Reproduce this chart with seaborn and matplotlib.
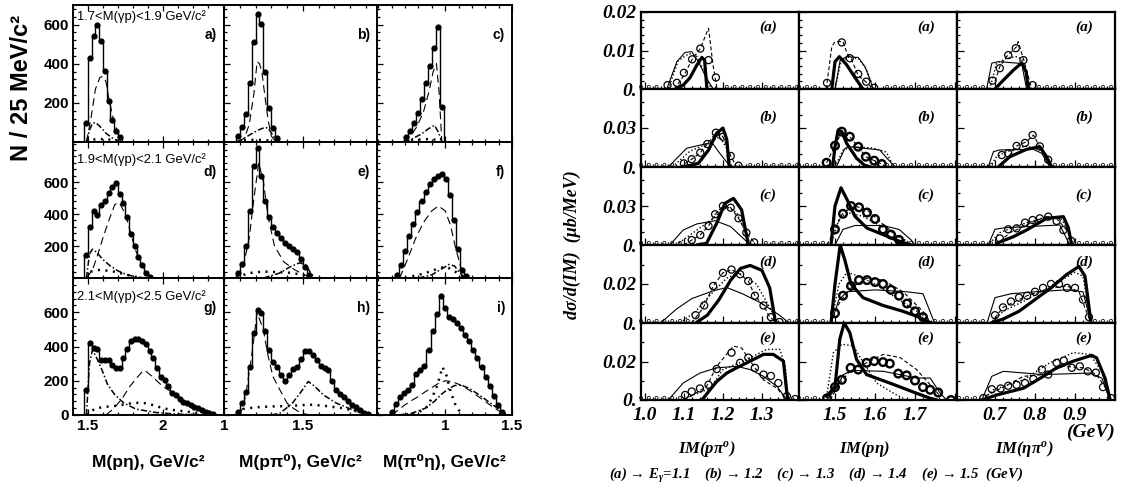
import numpy as np
import pandas as pd
import matplotlib
matplotlib.use("Agg")
import matplotlib.pyplot as plt
from matplotlib.ticker import MultipleLocator
from matplotlib.transforms import ScaledTranslation
import seaborn as sns

sns.set_theme(style="ticks", rc={
    "axes.edgecolor": "black", "xtick.color": "black", "ytick.color": "black",
    "text.color": "black", "axes.labelcolor": "black",
})
SANS = ["Liberation Sans", "DejaVu Sans"]
SERIF = ["Liberation Serif", "DejaVu Serif"]
plt.rcParams["font.family"] = SANS
plt.rcParams["mathtext.fontset"] = "custom"
plt.rcParams["mathtext.rm"] = "Liberation Serif:bold:italic"
plt.rcParams["mathtext.it"] = "Liberation Serif:bold:italic"
plt.rcParams["mathtext.bf"] = "Liberation Serif:bold:italic"

# ======================= left block: event distributions =======================
W_SLICES = ["1.7<M(γp)<1.9 GeV/c²", "1.9<M(γp)<2.1 GeV/c²", "2.1<M(γp)<2.5 GeV/c²"]
LEFT_TAGS = [["a)", "b)", "c)"], ["d)", "e)", "f)"], ["g)", "h)", "i)"]]
MASS_TITLES = ["M(pη), GeV/c²", "M(pπ⁰), GeV/c²", "M(π⁰η), GeV/c²"]
Y_TITLE_LEFT = "N / 25 MeV/c²"

# first bin centre of each panel and bin width of each column
FIRST_BIN = [[1.4875, 1.0875, 0.705], [1.4875, 1.0875, 0.640], [1.4875, 1.0875, 0.601]]
BIN_WIDTH = [0.025, 0.025, 0.0305]

counts_a = [96, 429, 544, 597, 514, 364, 207, 113, 56, 27]
counts_b = [31, 79, 144, 301, 511, 656, 605, 356, 176, 70, 22]
counts_c = [25, 55, 95, 150, 220, 300, 390, 480, 590, 180]
counts_d = [144, 317, 421, 394, 456, 481, 529, 571, 592, 525, 467, 383, 275, 200, 133, 81, 33, 8]
counts_e = [30, 90, 200, 420, 700, 810, 640, 480, 380, 320, 280, 250, 220, 200, 180, 160, 120, 70, 20]
counts_f = [20, 80, 170, 260, 340, 410, 480, 540, 590, 620, 640, 650, 620, 520, 360, 180, 50, 10]
counts_g = [147, 418, 392, 386, 323, 323, 323, 294, 275, 275, 333, 386, 431, 445, 441, 431, 412, 372,
            333, 275, 222, 206, 167, 127, 118, 95, 78, 69, 59, 45, 39, 28, 20, 12, 6]
counts_h = [20, 69, 137, 280, 480, 614, 598, 490, 382, 308, 280, 235, 200, 235, 269, 280, 327, 372,
            372, 350, 323, 288, 275, 265, 200, 147, 122, 108, 84, 59, 49, 29, 14, 5]
counts_i = [20, 65, 104, 127, 147, 176, 241, 265, 288, 378, 490, 588, 692, 622, 575, 563, 539, 510,
            470, 430, 380, 330, 280, 220, 170, 110, 60, 20]

# fit components: dashed, dash-dotted, dotted
dash_a = ([1.49, 1.52, 1.55, 1.58, 1.60, 1.62, 1.645, 1.67, 1.70, 1.72], [0, 120, 270, 330, 335, 310, 200, 120, 45, 0])
ddot_a = ([1.49, 1.51, 1.53, 1.55, 1.58, 1.62, 1.66, 1.70, 1.72], [0, 60, 95, 100, 80, 45, 22, 5, 0])
dots_a = ([1.49, 1.52, 1.60, 1.68, 1.72], [0, 12, 15, 10, 0])
dash_b = ([1.09, 1.13, 1.16, 1.19, 1.21, 1.225, 1.24, 1.26, 1.28, 1.30, 1.33], [0, 20, 90, 250, 410, 400, 360, 230, 110, 30, 0])
ddot_b = ([1.08, 1.12, 1.17, 1.22, 1.26, 1.28, 1.31, 1.34], [0, 15, 40, 62, 75, 70, 35, 0])
dots_b = ([1.08, 1.12, 1.20, 1.28, 1.34], [0, 8, 12, 8, 0])
dash_c = ([0.69, 0.74, 0.79, 0.84, 0.88, 0.91, 0.935, 0.955, 0.975], [0, 30, 80, 160, 260, 360, 400, 250, 0])
ddot_c = ([0.69, 0.75, 0.82, 0.88, 0.92, 0.95, 0.975], [0, 15, 40, 70, 85, 50, 0])
dots_c = ([0.69, 0.76, 0.85, 0.93, 0.975], [0, 10, 15, 12, 0])
dash_d = ([1.49, 1.53, 1.56, 1.60, 1.64, 1.68, 1.71, 1.75, 1.78, 1.82, 1.86, 1.90, 1.93],
          [0, 50, 130, 250, 360, 460, 470, 400, 300, 170, 80, 20, 0])
ddot_d = ([1.49, 1.51, 1.53, 1.56, 1.60, 1.65, 1.70, 1.76, 1.82, 1.88], [0, 150, 180, 160, 115, 75, 45, 20, 8, 0])
dots_d = ([1.49, 1.52, 1.57, 1.65, 1.72, 1.80, 1.86], [0, 40, 50, 45, 30, 10, 0])
dash_e = ([1.08, 1.12, 1.16, 1.19, 1.22, 1.25, 1.28, 1.32, 1.38, 1.45, 1.52, 1.56],
          [0, 60, 250, 500, 720, 600, 380, 200, 100, 50, 15, 0])
ddot_e = ([1.25, 1.35, 1.42, 1.48, 1.52, 1.55, 1.58], [0, 30, 70, 95, 80, 30, 0])
dots_e = ([1.08, 1.15, 1.25, 1.40, 1.50, 1.56], [0, 30, 40, 35, 20, 0])
dash_f = ([0.66, 0.72, 0.78, 0.84, 0.90, 0.95, 1.0, 1.04, 1.08, 1.12, 1.15], [0, 120, 250, 350, 420, 450, 420, 330, 180, 60, 0])
ddot_f = ([0.80, 0.90, 0.98, 1.03, 1.07, 1.11, 1.15], [0, 20, 60, 85, 75, 30, 0])
dots_f = ([0.70, 0.85, 0.95, 1.0, 1.05, 1.10, 1.15], [0, 30, 60, 70, 55, 25, 0])
dash_g = ([1.62, 1.67, 1.73, 1.78, 1.83, 1.86, 1.88, 1.93, 2.0, 2.09, 2.16, 2.21, 2.30, 2.38],
          [0, 35, 98, 167, 220, 250, 261, 225, 167, 118, 69, 39, 15, 0])
ddot_g = ([1.49, 1.51, 1.53, 1.56, 1.60, 1.63, 1.68, 1.74, 1.82, 1.95, 2.10, 2.35],
          [0, 300, 380, 330, 250, 180, 118, 70, 35, 15, 5, 0])
dots_g = ([1.49, 1.52, 1.55, 1.62, 1.68, 1.75, 1.81, 1.88, 1.95, 2.0, 2.08, 2.16, 2.25, 2.35],
          [0, 20, 39, 48, 53, 62, 72, 69, 55, 39, 28, 20, 10, 0])
dash_h = ([1.09, 1.12, 1.143, 1.175, 1.21, 1.249, 1.28, 1.31, 1.354, 1.40, 1.44, 1.49, 1.55],
          [0, 40, 147, 343, 598, 500, 343, 225, 147, 69, 39, 10, 0])
ddot_h = ([1.30, 1.354, 1.43, 1.49, 1.534, 1.576, 1.629, 1.713, 1.818, 1.90, 1.95],
          [0, 10, 65, 137, 196, 167, 118, 69, 29, 6, 0])
dots_h = ([1.09, 1.12, 1.20, 1.30, 1.40, 1.50, 1.56, 1.65, 1.75, 1.85, 1.95],
          [0, 35, 45, 50, 52, 58, 60, 52, 40, 20, 0])
dash_i = ([0.60, 0.65, 0.70, 0.75, 0.80, 0.85, 0.90, 0.95, 1.0, 1.05, 1.10, 1.15, 1.20, 1.28, 1.36, 1.45],
          [0, 30, 60, 85, 108, 135, 160, 185, 200, 195, 180, 160, 135, 90, 45, 0])
ddot_i = ([0.65, 0.75, 0.85, 0.92, 0.97, 1.02, 1.07, 1.12, 1.18, 1.25, 1.32, 1.40, 1.46],
          [0, 10, 39, 80, 120, 150, 172, 175, 155, 120, 80, 35, 0])
dots_i = ([0.70, 0.80, 0.86, 0.90, 0.94, 0.98, 1.01, 1.04, 1.07, 1.10, 1.14],
          [0, 15, 45, 98, 170, 280, 230, 140, 70, 30, 0])

LEFT_COUNTS = [[counts_a, counts_b, counts_c], [counts_d, counts_e, counts_f], [counts_g, counts_h, counts_i]]
LEFT_DASH = [[dash_a, dash_b, dash_c], [dash_d, dash_e, dash_f], [dash_g, dash_h, dash_i]]
LEFT_DDOT = [[ddot_a, ddot_b, ddot_c], [ddot_d, ddot_e, ddot_f], [ddot_g, ddot_h, ddot_i]]
LEFT_DOTS = [[dots_a, dots_b, dots_c], [dots_d, dots_e, dots_f], [dots_g, dots_h, dots_i]]

LEFT_XLIM = [(1.4, 2.41), (1.0, 1.97), (0.49, 1.5)]
LEFT_XTICKS = [[1.5, 2.0], [1.0, 1.5], [1.0, 1.5]]
LEFT_XTICKLABELS = [["1.5", "2"], ["1", "1.5"], ["1", "1.5"]]
LEFT_YMAX = [700, 850, 800]
LEFT_YTICKS = [[200, 400, 600], [200, 400, 600], [0, 200, 400, 600]]

# ======================= right block: cross sections =======================
ROW_TAGS = ["(a)", "(b)", "(c)", "(d)", "(e)"]
PAIR_TITLES = [r"IM(p$\pi^o$)", r"IM(p$\eta$)", r"IM($\eta\pi^o$)"]
Y_TITLE_RIGHT = "dσ/d(IM)  (μb/MeV)"
ENERGY_LINE = r"(a) → $E_{\gamma}$=1.1    (b) → 1.2    (c) → 1.3    (d) → 1.4    (e) → 1.5  (GeV)"

# column 1: IM(p pi0), rows (a)..(e)
ppi_thick = [
    ([1.083, 1.10, 1.116, 1.133, 1.146, 1.153, 1.159], [0, 0.0012, 0.003, 0.0062, 0.0082, 0.0075, 0]),
    ([1.098, 1.137, 1.163, 1.184, 1.200, 1.210, 1.216], [0, 0.0028, 0.013, 0.026, 0.030, 0.021, 0]),
    ([1.133, 1.158, 1.184, 1.205, 1.227, 1.248, 1.261, 1.266], [0, 0.0013, 0.0167, 0.032, 0.0359, 0.027, 0.0064, 0]),
    ([1.13, 1.16, 1.19, 1.22, 1.245, 1.27, 1.30, 1.32, 1.335], [0, 0.004, 0.012, 0.022, 0.028, 0.0295, 0.027, 0.018, 0]),
    ([1.146, 1.184, 1.21, 1.235, 1.27, 1.304, 1.329, 1.355, 1.364, 1.367],
     [0, 0.0096, 0.014, 0.0167, 0.0202, 0.0237, 0.0237, 0.0202, 0.0035, 0]),
]
ppi_thin = [
    ([1.056, 1.082, 1.103, 1.12, 1.137, 1.158, 1.175], [0, 0.0071, 0.0095, 0.0097, 0.0071, 0.0028, 0]),
    ([1.06, 1.107, 1.158, 1.175, 1.192, 1.22], [0, 0.0144, 0.018, 0.0175, 0.0105, 0]),
    ([1.064, 1.098, 1.133, 1.18, 1.22, 1.252, 1.27], [0, 0.0115, 0.0162, 0.0187, 0.0141, 0.0051, 0]),
    ([1.04, 1.08, 1.12, 1.175, 1.21, 1.25, 1.30, 1.345, 1.37], [0, 0.007, 0.0125, 0.0165, 0.0182, 0.015, 0.010, 0.004, 0]),
    ([1.06, 1.098, 1.141, 1.184, 1.235, 1.27, 1.304, 1.339, 1.364], [0, 0.0088, 0.014, 0.0167, 0.0175, 0.0158, 0.0123, 0.007, 0]),
]
ppi_dot = [
    ([1.06, 1.085, 1.113, 1.133, 1.158, 1.17], [0, 0.0073, 0.0092, 0.0085, 0.003, 0]),
    ([1.07, 1.116, 1.15, 1.192, 1.209, 1.221], [0, 0.0123, 0.0165, 0.0231, 0.0146, 0]),
    ([1.08, 1.125, 1.168, 1.21, 1.235, 1.261, 1.27], [0, 0.0097, 0.019, 0.0295, 0.025, 0.008, 0]),
    ([1.09, 1.13, 1.175, 1.21, 1.24, 1.286, 1.32, 1.34], [0, 0.006, 0.016, 0.023, 0.0257, 0.0199, 0.008, 0]),
    ([1.09, 1.167, 1.20, 1.253, 1.312, 1.346, 1.36, 1.367], [0, 0.006, 0.0158, 0.0202, 0.0263, 0.0263, 0.0175, 0]),
]
ppi_dash = [
    ([1.075, 1.10, 1.121, 1.142, 1.163, 1.175, 1.185], [0, 0.0035, 0.0077, 0.0105, 0.0158, 0.006, 0]),
    ([1.09, 1.12, 1.142, 1.16, 1.182, 1.20, 1.22, 1.235], [0, 0.006, 0.011, 0.0177, 0.0264, 0.0233, 0.0085, 0]),
    ([1.10, 1.12, 1.142, 1.163, 1.18, 1.20, 1.22, 1.24, 1.26, 1.28],
     [0, 0.0038, 0.0077, 0.0146, 0.0236, 0.030, 0.0287, 0.0205, 0.0095, 0.002]),
    ([1.12, 1.15, 1.175, 1.20, 1.222, 1.244, 1.265, 1.282, 1.304, 1.32, 1.34],
     [0, 0.008, 0.019, 0.0257, 0.0274, 0.025, 0.0215, 0.014, 0.009, 0.003, 0]),
    ([1.10, 1.116, 1.158, 1.184, 1.227, 1.248, 1.27, 1.304, 1.339, 1.364],
     [0, 0.0018, 0.007, 0.0175, 0.028, 0.027, 0.0202, 0.0105, 0.006, 0]),
]
ppi_circ = [
    ([1.058, 1.082, 1.10, 1.121, 1.142, 1.163, 1.182], [0.001, 0.0016, 0.0042, 0.0077, 0.0105, 0.0075, 0.003]),
    ([1.10, 1.12, 1.142, 1.16, 1.182, 1.20, 1.22, 1.24], [0.0028, 0.006, 0.011, 0.0177, 0.0264, 0.0233, 0.0085, 0.001]),
    ([1.12, 1.142, 1.163, 1.18, 1.20, 1.22, 1.24, 1.26, 1.28],
     [0.0038, 0.0077, 0.0146, 0.0236, 0.030, 0.0287, 0.0205, 0.0095, 0.002]),
    ([1.13, 1.152, 1.175, 1.20, 1.222, 1.244, 1.265, 1.282, 1.304, 1.323, 1.345],
     [0.004, 0.009, 0.019, 0.0257, 0.0274, 0.025, 0.0215, 0.014, 0.009, 0.003, 0.0005]),
    ([1.103, 1.12, 1.141, 1.163, 1.184, 1.222, 1.244, 1.265, 1.282, 1.304, 1.323, 1.342, 1.364, 1.385],
     [0.0026, 0.0044, 0.006, 0.0079, 0.0161, 0.0246, 0.0193, 0.022, 0.0167, 0.0132, 0.0125, 0.0088, 0.002, 0.0005]),
]

# column 2: IM(p eta)
peta_thick = [
    ([1.492, 1.50, 1.511, 1.529, 1.546, 1.563, 1.57], [0, 0.0071, 0.0084, 0.0063, 0.0036, 0.001, 0]),
    ([1.494, 1.50, 1.508, 1.517, 1.529, 1.554, 1.574, 1.59], [0, 0.0156, 0.0285, 0.0272, 0.0182, 0.0067, 0.0013, 0]),
    ([1.49, 1.50, 1.515, 1.53, 1.55, 1.58, 1.62, 1.66, 1.69], [0, 0.030, 0.044, 0.035, 0.022, 0.013, 0.008, 0.003, 0]),
    ([1.49, 1.50, 1.513, 1.525, 1.54, 1.57, 1.62, 1.67, 1.71, 1.74], [0, 0.020, 0.040, 0.032, 0.020, 0.013, 0.009, 0.006, 0.003, 0]),
    ([1.479, 1.50, 1.512, 1.523, 1.537, 1.554, 1.579, 1.637, 1.704, 1.738, 1.755],
     [0.0018, 0.007, 0.0316, 0.040, 0.035, 0.021, 0.0132, 0.0088, 0.0035, 0.0009, 0]),
]
peta_thin = [
    ([1.50, 1.513, 1.529, 1.558, 1.575, 1.588, 1.595], [0, 0.0075, 0.0084, 0.0082, 0.0058, 0.0023, 0]),
    ([1.503, 1.525, 1.537, 1.612, 1.63, 1.65], [0, 0.0144, 0.0156, 0.0131, 0.0067, 0]),
    ([1.50, 1.52, 1.55, 1.62, 1.66, 1.69, 1.70], [0, 0.012, 0.015, 0.015, 0.012, 0.004, 0]),
    ([1.49, 1.51, 1.53, 1.60, 1.68, 1.72, 1.745, 1.75], [0, 0.012, 0.016, 0.017, 0.016, 0.015, 0.002, 0]),
    ([1.479, 1.50, 1.521, 1.542, 1.621, 1.704, 1.738, 1.763, 1.779],
     [0, 0.0053, 0.0132, 0.0154, 0.0149, 0.0114, 0.0114, 0.0035, 0]),
]
peta_dot = [
    ([1.50, 1.515, 1.535, 1.56, 1.578, 1.59, 1.596], [0, 0.0072, 0.0083, 0.0078, 0.0052, 0.002, 0]),
    ([1.50, 1.52, 1.545, 1.595, 1.628, 1.642, 1.648], [0, 0.013, 0.0156, 0.0146, 0.0115, 0.003, 0]),
    ([1.49, 1.51, 1.53, 1.57, 1.63, 1.68, 1.69], [0, 0.020, 0.025, 0.022, 0.012, 0.003, 0]),
    ([1.49, 1.51, 1.53, 1.56, 1.60, 1.66, 1.72, 1.74], [0, 0.020, 0.026, 0.024, 0.020, 0.012, 0.004, 0]),
    ([1.479, 1.496, 1.517, 1.546, 1.571, 1.604, 1.654, 1.679], [0.002, 0.0246, 0.029, 0.0281, 0.0193, 0.0088, 0.0026, 0]),
]
peta_dash = [
    ([1.478, 1.492, 1.50, 1.52, 1.53, 1.54, 1.558, 1.58, 1.595], [0, 0.011, 0.0123, 0.0123, 0.0093, 0.008, 0.0035, 0.0016, 0]),
    ([1.479, 1.50, 1.517, 1.537, 1.558, 1.577, 1.598, 1.617], [0.0033, 0.0164, 0.0272, 0.0233, 0.0156, 0.0079, 0.0049, 0.0023]),
    ([1.48, 1.50, 1.52, 1.55, 1.58, 1.62, 1.66, 1.69], [0, 0.012, 0.025, 0.030, 0.027, 0.016, 0.006, 0]),
    ([1.49, 1.51, 1.54, 1.58, 1.62, 1.67, 1.72, 1.74], [0, 0.010, 0.018, 0.023, 0.022, 0.016, 0.006, 0]),
    ([1.488, 1.512, 1.537, 1.579, 1.621, 1.663, 1.704, 1.738, 1.763],
     [0, 0.0088, 0.0149, 0.0193, 0.0237, 0.022, 0.0158, 0.0079, 0.002]),
]
peta_circ = [
    ([1.48, 1.517, 1.537, 1.558, 1.578, 1.598], [0.0016, 0.0121, 0.008, 0.0039, 0.0019, 0.0003]),
    ([1.479, 1.50, 1.517, 1.537, 1.558, 1.577, 1.598, 1.617], [0.0033, 0.0164, 0.0272, 0.0233, 0.0156, 0.0079, 0.0049, 0.0023]),
    ([1.50, 1.52, 1.54, 1.56, 1.58, 1.60, 1.62, 1.64, 1.66], [0.012, 0.024, 0.030, 0.029, 0.025, 0.020, 0.012, 0.008, 0.004]),
    ([1.50, 1.52, 1.54, 1.56, 1.58, 1.60, 1.62, 1.64, 1.66, 1.68, 1.70, 1.72],
     [0.005, 0.014, 0.019, 0.022, 0.022, 0.021, 0.020, 0.017, 0.014, 0.010, 0.006, 0.003]),
    ([1.48, 1.50, 1.517, 1.539, 1.558, 1.579, 1.598, 1.62, 1.637, 1.658, 1.679, 1.70, 1.72, 1.738, 1.758, 1.79],
     [0.0009, 0.0067, 0.0105, 0.0167, 0.0158, 0.0193, 0.0202, 0.0197, 0.0189, 0.0137, 0.0128, 0.0101, 0.0067, 0.0053, 0.0039, 0.0]),
]

# column 3: IM(eta pi0)
etapi_thick = [
    ([0.70, 0.721, 0.746, 0.767, 0.778, 0.783], [0, 0.0023, 0.0049, 0.0068, 0.0044, 0]),
    ([0.708, 0.737, 0.779, 0.812, 0.829, 0.842], [0, 0.0079, 0.0136, 0.0156, 0.0079, 0]),
    ([0.704, 0.746, 0.779, 0.829, 0.871, 0.883, 0.892], [0.0013, 0.0064, 0.0115, 0.0205, 0.0218, 0.0136, 0]),
    ([0.69, 0.72, 0.76, 0.80, 0.84, 0.88, 0.91, 0.925, 0.935, 0.94], [0, 0.002, 0.006, 0.012, 0.018, 0.025, 0.029, 0.024, 0.008, 0]),
    ([0.667, 0.704, 0.771, 0.821, 0.854, 0.896, 0.942, 0.954, 0.975, 0.988],
     [0, 0.0026, 0.0061, 0.0123, 0.0167, 0.0202, 0.0232, 0.0219, 0.0114, 0]),
]
etapi_thin = [
    ([0.679, 0.692, 0.708, 0.758, 0.767, 0.779], [0, 0.0067, 0.0071, 0.0067, 0.0064, 0]),
    ([0.683, 0.696, 0.712, 0.796, 0.817, 0.837], [0, 0.0118, 0.0131, 0.0136, 0.0105, 0]),
    ([0.683, 0.70, 0.725, 0.862, 0.887], [0, 0.0121, 0.0133, 0.0154, 0]),
    ([0.68, 0.70, 0.74, 0.80, 0.88, 0.92, 0.935, 0.94], [0, 0.013, 0.015, 0.016, 0.017, 0.016, 0.004, 0]),
    ([0.667, 0.692, 0.721, 0.821, 0.937, 0.967, 0.988], [0, 0.0123, 0.0149, 0.0132, 0.014, 0.0114, 0]),
]
etapi_dot = [
    ([0.687, 0.704, 0.729, 0.754, 0.767, 0.783], [0, 0.0067, 0.008, 0.0084, 0.0078, 0.0008]),
    ([0.687, 0.704, 0.729, 0.779, 0.812, 0.837], [0, 0.0079, 0.0118, 0.0162, 0.0131, 0.0013]),
    ([0.687, 0.712, 0.762, 0.829, 0.862, 0.883, 0.892], [0.0013, 0.0095, 0.0154, 0.0218, 0.0218, 0.0115, 0.0026]),
    ([0.69, 0.72, 0.78, 0.84, 0.90, 0.92, 0.935, 0.94], [0, 0.006, 0.012, 0.019, 0.026, 0.024, 0.006, 0]),
    ([0.669, 0.696, 0.771, 0.837, 0.896, 0.937, 0.967, 0.988], [0, 0.0053, 0.0105, 0.0193, 0.0246, 0.0237, 0.0149, 0]),
]
etapi_dash = [
    ([0.70, 0.712, 0.729, 0.754, 0.758, 0.772, 0.792], [0.002, 0.0058, 0.0084, 0.011, 0.0123, 0.0075, 0]),
    ([0.712, 0.737, 0.754, 0.779, 0.796, 0.812, 0.837], [0.0013, 0.0092, 0.0162, 0.0195, 0.0246, 0.0156, 0.0013]),
    ([0.712, 0.737, 0.762, 0.796, 0.829, 0.854, 0.879, 0.892], [0.0026, 0.0095, 0.0128, 0.018, 0.0218, 0.0205, 0.0115, 0.0026]),
    ([0.69, 0.72, 0.78, 0.84, 0.88, 0.91, 0.93, 0.94], [0, 0.008, 0.014, 0.018, 0.019, 0.016, 0.005, 0]),
    ([0.675, 0.721, 0.771, 0.821, 0.871, 0.921, 0.954, 0.975, 0.988],
     [0.002, 0.0067, 0.0123, 0.0132, 0.0175, 0.0167, 0.0132, 0.0067, 0]),
]
etapi_circ = [
    ([0.694, 0.712, 0.733, 0.752, 0.771, 0.794], [0.0022, 0.0054, 0.0088, 0.0106, 0.0075, 0.001]),
    ([0.717, 0.733, 0.754, 0.775, 0.794, 0.812, 0.833], [0.0092, 0.0105, 0.0162, 0.0185, 0.0246, 0.0159, 0.0056]),
    ([0.712, 0.733, 0.754, 0.775, 0.794, 0.812, 0.833, 0.854, 0.871, 0.89],
     [0.0051, 0.0121, 0.0128, 0.0172, 0.0192, 0.0205, 0.0218, 0.0185, 0.0115, 0.0033]),
    ([0.70, 0.72, 0.74, 0.76, 0.78, 0.80, 0.82, 0.84, 0.86, 0.88, 0.90, 0.92, 0.935],
     [0.004, 0.008, 0.011, 0.013, 0.014, 0.016, 0.018, 0.020, 0.020, 0.018, 0.018, 0.012, 0.003]),
    ([0.671, 0.692, 0.714, 0.733, 0.754, 0.775, 0.796, 0.817, 0.833, 0.854, 0.872, 0.892, 0.912, 0.932, 0.952, 0.97, 0.99],
     [0.001, 0.0056, 0.006, 0.0074, 0.0079, 0.0088, 0.0109, 0.0158, 0.0132, 0.0193, 0.0205, 0.0167, 0.0175, 0.0149, 0.0142, 0.0067, 0.001]),
]

RIGHT_THICK = [ppi_thick, peta_thick, etapi_thick]
RIGHT_THIN = [ppi_thin, peta_thin, etapi_thin]
RIGHT_DOT = [ppi_dot, peta_dot, etapi_dot]
RIGHT_DASH = [ppi_dash, peta_dash, etapi_dash]
RIGHT_CIRC = [ppi_circ, peta_circ, etapi_circ]

COL_XLIM = [(0.99, 1.395), (1.41, 1.805), (0.605, 1.0)]
COL_XTICKS = [[1.0, 1.1, 1.2, 1.3], [1.5, 1.6, 1.7, 1.8], [0.7, 0.8, 0.9, 1.0]]
COL_XTICKLABELS = [["1.0", "1.1", "1.2", "1.3"], ["1.5", "1.6", "1.7", ""], ["0.7", "0.8", "0.9", ""]]
ROW_YMAX = [0.02, 0.06, 0.06, 0.04, 0.04]
ROW_YTICKS = [[0, 0.01, 0.02], [0, 0.03], [0, 0.03], [0, 0.02], [0, 0.02]]
ROW_YTICKLABELS = [["0.", "0.01", "0.02"], ["0.", "0.03"], ["0.", "0.03"], ["0.", "0.02"], ["0.", "0.02"]]
ROW_YMINOR = [0.002, 0.01, 0.01, 0.01, 0.01]

# ======================= figure =======================
W_PX, H_PX = 1122, 491
fig = plt.figure(figsize=(W_PX / 100, H_PX / 100), dpi=100)


def px_axes(x0, y0, x1, y1):
    return fig.add_axes([x0 / W_PX, 1 - y1 / H_PX, (x1 - x0) / W_PX, (y1 - y0) / H_PX])


def fig_text(x, y, s, **kw):
    return fig.text(x / W_PX, 1 - y / H_PX, s, **kw)


def line(ax, xy, **kw):
    sns.lineplot(x=xy[0], y=xy[1], ax=ax, color="black", estimator=None, sort=False, **kw)


LEFT_COLS = [73, 224, 377, 512]
LEFT_ROWS = [5, 142, 278, 415]
left_font = dict(family=SANS, fontweight="bold", fontsize=11)

for r in range(3):
    for c in range(3):
        ax = px_axes(LEFT_COLS[c], LEFT_ROWS[r], LEFT_COLS[c + 1], LEFT_ROWS[r + 1])
        n = LEFT_COUNTS[r][c]
        w = BIN_WIDTH[c]
        centers = FIRST_BIN[r][c] + w * np.arange(len(n))
        # empty bins on both sides so the outline closes on the axis
        hist_df = pd.DataFrame({
            "mass": np.concatenate([[centers[0] - w], centers, [centers[-1] + w]]),
            "events": np.concatenate([[0], n, [0]]),
        })
        sns.histplot(data=hist_df, x="mass", weights="events", binwidth=w,
                     binrange=(centers[0] - 1.5 * w, centers[-1] + 1.5 * w),
                     element="step", fill=False, color="black", linewidth=1.0, ax=ax)
        line(ax, LEFT_DASH[r][c], linewidth=0.8, linestyle=(0, (7, 4)))
        line(ax, LEFT_DDOT[r][c], linewidth=1.1, linestyle=(0, (4, 1.5, 1, 1.5)))
        line(ax, LEFT_DOTS[r][c], linewidth=1.8, linestyle=(0, (0.8, 2.2)))
        sns.scatterplot(x=centers, y=n, ax=ax, color="black", s=20, linewidth=0, zorder=5)

        ax.set_xlim(*LEFT_XLIM[c])
        ax.set_ylim(0, LEFT_YMAX[r])
        ax.set_xlabel("")
        ax.set_ylabel("")
        ax.set_xticks(LEFT_XTICKS[c], LEFT_XTICKLABELS[c] if r == 2 else [""] * len(LEFT_XTICKS[c]), **left_font)
        ax.set_yticks(LEFT_YTICKS[r], [str(v) for v in LEFT_YTICKS[r]] if c == 0 else [""] * len(LEFT_YTICKS[r]),
                      **left_font)
        ax.xaxis.set_minor_locator(MultipleLocator(0.1))
        ax.yaxis.set_minor_locator(MultipleLocator(40))
        ax.tick_params(which="both", direction="in", top=True, right=False, width=0.9)
        ax.tick_params(which="major", length=4.5, pad=3)
        ax.tick_params(which="minor", length=2.3)
        for sp in ax.spines.values():
            sp.set_linewidth(1.4)
            sp.set_visible(True)
        fig_text(LEFT_COLS[c + 1] - 7, LEFT_ROWS[r] + 30, LEFT_TAGS[r][c], ha="right", va="center",
                 fontsize=10, fontweight="bold", family=SANS)
    fig_text(77, [17, 160, 297][r], W_SLICES[r], ha="left", va="center", fontsize=9.4, family=SANS)

for c in range(3):
    fig_text((LEFT_COLS[c] + LEFT_COLS[c + 1]) / 2, 462, MASS_TITLES[c], ha="center", va="center",
             fontsize=12.5, fontweight="bold", family=SANS)
fig_text(22, 88, Y_TITLE_LEFT, rotation=90, ha="center", va="center", fontsize=17,
         fontweight="bold", family=SANS)

RIGHT_COLS = [641, 799, 957, 1115]
RIGHT_ROWS = [12, 89, 167, 245, 323, 400]
TAG_Y = [27, 117, 195, 262, 338]
right_tick_font = dict(family=SERIF, fontweight="bold", fontstyle="italic")
lift = ScaledTranslation(0, 1.6 / 72, fig.dpi_scale_trans)

for r in range(5):
    for c in range(3):
        ax = px_axes(RIGHT_COLS[c], RIGHT_ROWS[r], RIGHT_COLS[c + 1], RIGHT_ROWS[r + 1])
        line(ax, RIGHT_THIN[c][r], linewidth=0.8)
        line(ax, RIGHT_DOT[c][r], linewidth=1.0, linestyle=(0, (1, 1.6)))
        line(ax, RIGHT_DASH[c][r], linewidth=0.8, linestyle=(0, (3.5, 2.2)))
        line(ax, RIGHT_THICK[c][r], linewidth=2.3)
        cx, cy = RIGHT_CIRC[c][r]
        bold_circ = (c == 1 and r > 0)
        sns.scatterplot(x=cx, y=cy, ax=ax, marker="o", s=26 if not bold_circ else 30,
                        facecolor="none", edgecolor="black", linewidth=1.7 if bold_circ else 0.9, zorder=4)
        # empty bins away from the populated region
        lo, hi = COL_XLIM[c]
        grid = np.arange(np.floor(lo * 50) / 50 + 0.01, hi, 0.02)
        zx = grid[(grid < min(cx) - 0.012) | (grid > max(cx) + 0.012)]
        sns.scatterplot(x=zx, y=np.zeros_like(zx), ax=ax, marker="o", s=4.5, facecolor="none",
                        edgecolor="black", linewidth=0.55, clip_on=False, zorder=4,
                        transform=ax.transData + lift)

        ax.set_xlim(*COL_XLIM[c])
        ax.set_ylim(0, ROW_YMAX[r])
        ax.set_xlabel("")
        ax.set_ylabel("")
        ax.set_xticks(COL_XTICKS[c], COL_XTICKLABELS[c] if r == 4 else [""] * len(COL_XTICKS[c]),
                      fontsize=14, **right_tick_font)
        ax.set_yticks(ROW_YTICKS[r], ROW_YTICKLABELS[r] if c == 0 else [""] * len(ROW_YTICKS[r]),
                      fontsize=14, **right_tick_font)
        ax.xaxis.set_minor_locator(MultipleLocator(0.02))
        ax.yaxis.set_minor_locator(MultipleLocator(ROW_YMINOR[r]))
        ax.tick_params(which="both", direction="in", top=False, right=False, width=0.9)
        ax.tick_params(which="major", length=5)
        ax.tick_params(which="minor", length=2.5)
        ax.tick_params(axis="x", which="major", pad=5)
        ax.tick_params(axis="y", which="major", pad=3)
        for sp in ax.spines.values():
            sp.set_linewidth(1.6)
            sp.set_visible(True)
        fig_text(RIGHT_COLS[c + 1] - 31, TAG_Y[r], ROW_TAGS[r], ha="center", va="center",
                 fontsize=11, fontweight="bold", fontstyle="italic", family=SERIF)

for c, xc in enumerate([707, 864, 1024]):
    fig_text(xc, 449, PAIR_TITLES[c], ha="center", va="center", fontsize=12,
             fontweight="bold", fontstyle="italic", family=SERIF)
fig_text(1090, 432, "(GeV)", ha="center", va="center", fontsize=14, fontweight="bold",
         fontstyle="italic", family=SERIF)
fig_text(816, 475, ENERGY_LINE, ha="center", va="center", fontsize=10.6, fontweight="bold",
         fontstyle="italic", family=SERIF)
fig_text(572, 245, Y_TITLE_RIGHT, rotation=90, ha="center", va="center", fontsize=13,
         fontweight="bold", fontstyle="italic", family=SERIF)

fig.savefig("out.png", dpi=100)
